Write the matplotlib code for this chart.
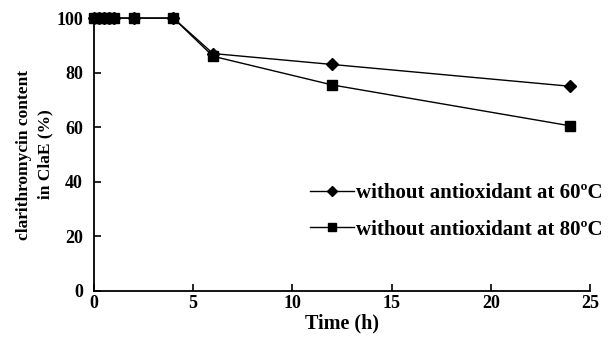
import matplotlib
matplotlib.use("Agg")
import matplotlib.pyplot as plt

time_h = [0, 0.25, 0.5, 0.75, 1, 2, 4, 6, 12, 24]
content_60 = [100, 100, 100, 100, 100, 100, 100, 87, 83, 75]
content_80 = [100, 100, 100, 100, 100, 100, 100, 86, 75.5, 60.5]
labels = ["without antioxidant at 60\u00baC", "without antioxidant at 80\u00baC"]
xticks = [0, 5, 10, 15, 20, 25]
yticks = [0, 20, 40, 60, 80, 100]

plt.rcParams['font.family'] = ['Liberation Serif', 'DejaVu Serif']
plt.rcParams['font.weight'] = 'bold'

fig = plt.figure(figsize=(6.14, 3.41), dpi=100)
ax = fig.add_axes([0.153, 0.147, 0.808, 0.8])

ax.plot(time_h, content_60, color='black', lw=1.0, marker='D', ms=6.5,
        label=labels[0], clip_on=False, zorder=3)
ax.plot(time_h, content_80, color='black', lw=1.0, marker='s', ms=7,
        label=labels[1], clip_on=False, zorder=4)

ax.set_xlim(0, 25)
ax.set_ylim(0, 100)
ax.set_xticks(xticks)
ax.set_yticks(yticks)
for s in ['top', 'right']:
    ax.spines[s].set_visible(False)
for s in ['left', 'bottom']:
    ax.spines[s].set_linewidth(1.3)
ax.tick_params(direction='in', length=5, width=1.2, labelsize=13)
ax.tick_params(axis='y', pad=8)
ax.tick_params(axis='x', pad=3)
for t in ax.get_xticklabels() + ax.get_yticklabels():
    t.set_fontweight('bold')

ax.set_xlabel("Time (h)", fontsize=14.5, fontweight='bold', labelpad=1)
ax.set_ylabel("clarithromycin content\nin ClaE (%)", fontsize=12.5, fontweight='bold',
              labelpad=2, linespacing=1.45)

leg = ax.legend(loc='upper left', bbox_to_anchor=(310 / 614, 1 - 183 / 341),
                bbox_transform=fig.transFigure, frameon=False,
                prop={'size': 15, 'weight': 'bold'}, handlelength=2.1,
                handletextpad=0.1, labelspacing=0.8, borderaxespad=0, borderpad=0,
                markerscale=0.85)

fig.savefig("out.png", dpi=100)
